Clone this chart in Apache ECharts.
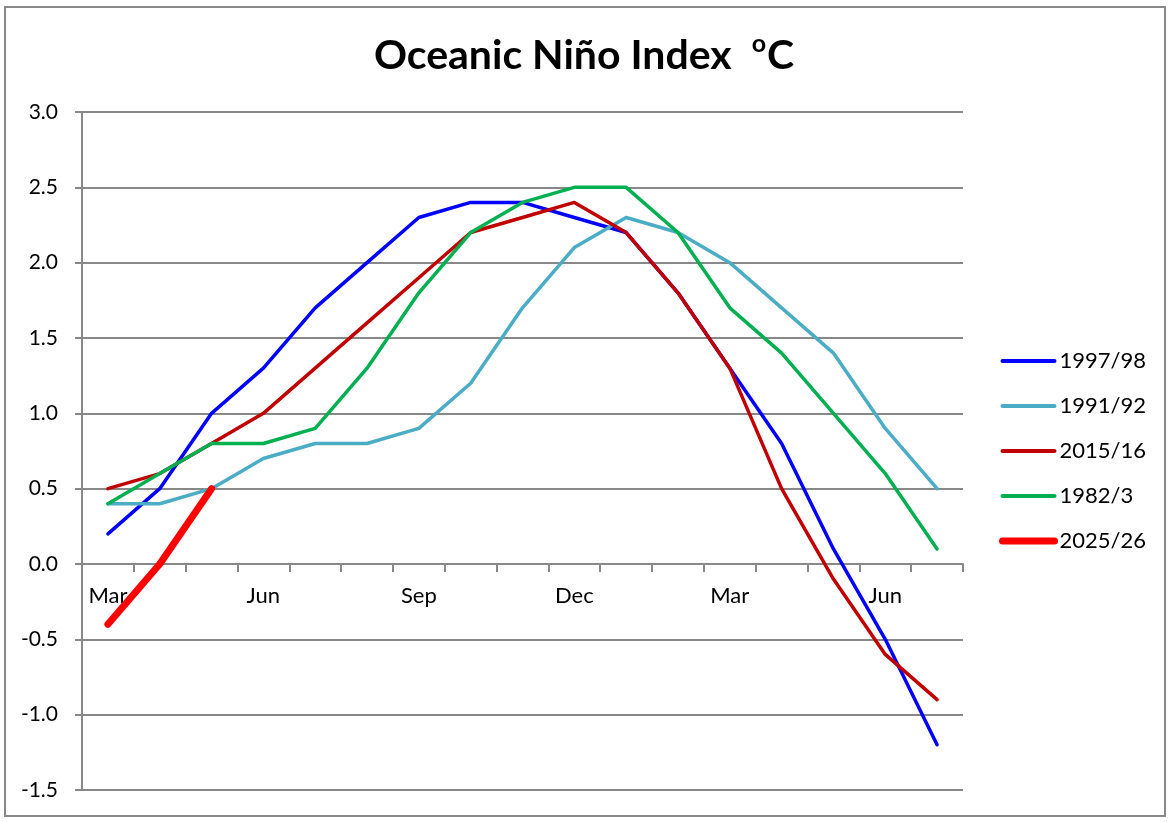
<!DOCTYPE html>
<html>
<head>
<meta charset="utf-8">
<title>Oceanic Niño Index</title>
<script src="https://cdn.jsdelivr.net/npm/echarts@6/dist/echarts.min.js"></script>
<style>
  html, body { margin: 0; padding: 0; background: #fff; }
  #chart { width: 1168px; height: 822px; }
</style>
</head>
<body>
<div id="chart"></div>
<script>
// months from March through July of the following year
var months = ['Mar', 'Apr', 'May', 'Jun', 'Jul', 'Aug', 'Sep', 'Oct', 'Nov',
  'Dec', 'Jan', 'Feb', 'Mar', 'Apr', 'May', 'Jun', 'Jul'];

var yearNames = ['1997/98', '1991/92', '2015/16', '1982/3', '2025/26'];

var oni1997 = [0.2, 0.5, 1.0, 1.3, 1.7, 2.0, 2.3, 2.4, 2.4, 2.3, 2.2, 1.8, 1.3, 0.8, 0.1, -0.5, -1.2];
var oni1991 = [0.4, 0.4, 0.5, 0.7, 0.8, 0.8, 0.9, 1.2, 1.7, 2.1, 2.3, 2.2, 2.0, 1.7, 1.4, 0.9, 0.5];
var oni2015 = [0.5, 0.6, 0.8, 1.0, 1.3, 1.6, 1.9, 2.2, 2.3, 2.4, 2.2, 1.8, 1.3, 0.5, -0.1, -0.6, -0.9];
var oni1982 = [0.4, 0.6, 0.8, 0.8, 0.9, 1.3, 1.8, 2.2, 2.4, 2.5, 2.5, 2.2, 1.7, 1.4, 1.0, 0.6, 0.1];
var oni2025 = [-0.4, 0.0, 0.5];

var colors = ['#0000FF', '#4BACC6', '#C00000', '#00B050', '#FF0000'];
var widths = [3.5, 3.5, 3.5, 3.5, 7];
var legendWidths = [4, 4, 4, 4, 7];
var seriesData = [oni1997, oni1991, oni2015, oni1982, oni2025];

var chart = echarts.init(document.getElementById('chart'));

var series = yearNames.map(function (name, i) {
  return {
    name: name,
    type: 'line',
    data: seriesData[i],
    symbol: 'none',
    color: colors[i],
    lineStyle: {
      color: colors[i],
      width: widths[i],
      cap: 'round',
      join: 'round'
    }
  };
});

var legendData = yearNames.map(function (name, i) {
  return {
    name: name,
    lineStyle: { color: colors[i], width: legendWidths[i], cap: 'round' },
    itemStyle: { color: 'rgba(0,0,0,0)', borderWidth: 0, opacity: 0 }
  };
});

var option = {
  animation: false,
  textStyle: { fontFamily: 'Lato, "Open Sans", sans-serif' },
  title: {
    text: '{t|Oceanic Niño Index  }{s|o}{t|C}',
    left: 'center',
    top: 26,
    textStyle: {
      rich: {
        t: { fontSize: 41, fontWeight: 'bold', color: '#000', lineHeight: 50, fontFamily: 'Lato' },
        s: { fontSize: 25, fontWeight: 'bold', color: '#000', lineHeight: 50, verticalAlign: 'top', padding: [0, 1, 16, 0], fontFamily: 'Lato' }
      }
    }
  },
  legend: {
    orient: 'vertical',
    left: 994,
    top: 345,
    itemWidth: 52,
    itemHeight: 14,
    itemGap: 23,
    textStyle: { fontSize: 22, color: '#000', lineHeight: 22 },
    data: legendData
  },
  grid: {
    left: 82,
    right: 205,
    top: 112,
    bottom: 32,
    containLabel: false
  },
  xAxis: {
    type: 'category',
    data: months,
    boundaryGap: true,
    offset: -226,
    axisLine: { onZero: false, lineStyle: { color: '#888', width: 2 } },
    axisTick: { show: true, interval: 0, length: 8, lineStyle: { color: '#888', width: 2 } },
    axisLabel: { interval: 2, fontSize: 22, color: '#000', margin: 21 },
    splitLine: { show: false }
  },
  yAxis: {
    type: 'value',
    min: -1.5,
    max: 3,
    interval: 0.5,
    axisLine: { show: true, lineStyle: { color: '#888', width: 2 } },
    axisTick: { show: true, length: 7, lineStyle: { color: '#888', width: 2 } },
    axisLabel: {
      fontSize: 21,
      color: '#000',
      margin: 24,
      formatter: function (v) { return v.toFixed(1); }
    },
    splitLine: { lineStyle: { color: '#888', width: 2 } }
  },
  graphic: [{
    type: 'rect',
    shape: { x: 5, y: 7, width: 1160, height: 809 },
    style: { fill: 'none', stroke: '#888', lineWidth: 2 },
    silent: true
  }],
  series: series
};

chart.setOption(option);
</script>
</body>
</html>
